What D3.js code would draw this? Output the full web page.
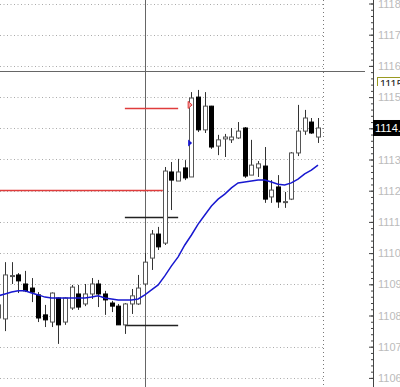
<!DOCTYPE html>
<html>
<head>
<meta charset="utf-8">
<script src="https://cdn.jsdelivr.net/npm/d3@7"></script>
<style>
body{margin:0;background:#fff;overflow:hidden;}
svg{display:block;font-family:"Liberation Sans",Arial,sans-serif;}
</style>
</head>
<body>
<div class="chartWrap"></div>
<script>
// bars, oldest first (first one is cut by the left edge)
var opens  = [1107.92,1107.89,1109.26,1109.30,1109.01,1108.88,1108.66,1108.02,1107.79,1108.56,1107.79,1108.24,1108.69,1108.37,1108.69,1109.01,1108.69,1108.40,1108.30,1107.70,1108.37,1108.37,1109.01,1109.84,1110.61,1110.32,1112.60,1112.31,1112.73,1112.44,1115.00,1113.95,1114.71,1113.43,1113.66,1113.63,1113.69,1114.01,1112.50,1112.73,1112.79,1111.80,1112.12,1111.63,1111.73,1113.21,1113.91,1114.20,1113.72];
var highs  = [1108.50,1109.71,1109.71,1109.36,1109.43,1109.20,1108.75,1108.34,1108.74,1108.58,1108.58,1108.98,1108.98,1109.01,1109.20,1109.14,1108.79,1108.47,1108.37,1108.40,1108.85,1109.30,1110.00,1110.74,1110.84,1112.76,1112.92,1113.02,1112.98,1115.16,1115.23,1115.16,1114.72,1113.79,1113.82,1114.01,1114.20,1114.04,1113.63,1112.95,1113.40,1112.34,1112.50,1111.96,1113.24,1114.75,1114.59,1114.33,1114.33];
var lows   = [1107.79,1107.50,1109.01,1108.72,1108.75,1108.43,1107.79,1107.63,1107.63,1107.09,1107.70,1108.18,1108.18,1108.30,1108.53,1108.27,1108.02,1108.11,1107.70,1107.41,1108.05,1108.34,1108.95,1109.46,1110.10,1110.26,1111.38,1112.31,1112.34,1112.44,1113.88,1113.85,1113.34,1113.14,1113.08,1113.53,1113.66,1112.41,1112.50,1112.44,1111.61,1111.61,1111.45,1111.45,1111.70,1113.11,1113.79,1113.82,1113.53];
var closes = [1108.34,1109.30,1109.28,1109.11,1108.79,1108.75,1107.92,1107.86,1108.72,1107.70,1108.56,1108.91,1108.27,1108.69,1109.01,1108.69,1108.50,1108.30,1107.70,1108.37,1108.63,1108.88,1109.71,1110.61,1110.20,1112.63,1112.34,1112.60,1112.41,1114.97,1113.95,1114.71,1113.40,1113.63,1113.72,1113.72,1113.91,1112.47,1112.82,1112.86,1111.73,1112.02,1111.64,1111.65,1113.21,1113.91,1114.33,1113.85,1114.01];
// moving average (blue)
var avg = [1108.63,1108.69,1108.75,1108.79,1108.79,1108.72,1108.66,1108.59,1108.56,1108.56,1108.56,1108.56,1108.56,1108.56,1108.59,1108.63,1108.56,1108.53,1108.50,1108.50,1108.50,1108.53,1108.66,1108.82,1108.98,1109.27,1109.59,1109.88,1110.26,1110.58,1110.93,1111.22,1111.51,1111.73,1111.89,1112.09,1112.25,1112.28,1112.31,1112.34,1112.34,1112.28,1112.21,1112.18,1112.25,1112.37,1112.54,1112.66,1112.82];

// horizontal levels
var levelPrice = [1114.65,1112.02,1111.16,1107.70];
var levelFrom  = [19.0,0.25,19.0,19.0];
var levelTo    = [27.0,24.7,27.0,27.0];
var levelColor = ["#e03c3c","#e03c3c","#222","#222"];

var priceTicks = [1106,1107,1108,1109,1110,1111,1112,1113,1114,1115,1116,1117,1118];
var crossBar = 22, crossPrice = 1115.84;
var markerBar = 28.8, markerUp = 1114.75, markerDown = 1113.53;
var lastLabel = "1114.00", boxLabel = "1115";

var width = 400, height = 387;
var plotRight = 323, axisX = 373;

var x = d3.scaleLinear().domain([0,48]).range([-1.66,318]);
var y = d3.scaleLinear().domain([1106,1118]).range([377.9,3.5]);

var svg = d3.select(".chartWrap").append("svg")
  .attr("width", width).attr("height", height);

//grid
svg.append("g").selectAll("line").data(priceTicks).enter().append("line")
  .attr("x1",0).attr("x2",plotRight)
  .attr("y1",function(d){return Math.round(y(d))+0.5;})
  .attr("y2",function(d){return Math.round(y(d))+0.5;})
  .attr("stroke","#aaa").attr("stroke-dasharray","1,2.5");
svg.append("line")
  .attr("x1",plotRight+0.5).attr("x2",plotRight+0.5).attr("y1",0).attr("y2",height)
  .attr("stroke","#777").attr("stroke-dasharray","1,3");

//crosshair
svg.append("line")
  .attr("x1",Math.round(x(crossBar))+0.5).attr("x2",Math.round(x(crossBar))+0.5)
  .attr("y1",0).attr("y2",height).attr("stroke","#666");
svg.append("line")
  .attr("x1",0).attr("x2",365)
  .attr("y1",Math.round(y(crossPrice))+0.5).attr("y2",Math.round(y(crossPrice))+0.5)
  .attr("stroke","#666");

//levels
svg.append("g").selectAll("line").data(levelPrice).enter().append("line")
  .attr("x1",function(d,i){return x(levelFrom[i]);})
  .attr("x2",function(d,i){return x(levelTo[i]);})
  .attr("y1",function(d){return Math.round(y(d))+0.5;})
  .attr("y2",function(d){return Math.round(y(d))+0.5;})
  .attr("stroke",function(d,i){return levelColor[i];})
  .attr("stroke-width",1.6);

//candles
var bars = svg.append("g").selectAll("g").data(closes).enter().append("g");
bars.append("line")
  .attr("x1",function(d,i){return Math.round(x(i))+0.5;})
  .attr("x2",function(d,i){return Math.round(x(i))+0.5;})
  .attr("y1",function(d,i){return y(highs[i]);})
  .attr("y2",function(d,i){return y(lows[i]);})
  .attr("stroke","#333");
bars.append("rect")
  .attr("x",function(d,i){return Math.round(x(i))-1.5;})
  .attr("width",4)
  .attr("y",function(d,i){return y(Math.max(opens[i],d));})
  .attr("height",function(d,i){return Math.max(1,Math.abs(y(opens[i])-y(d)));})
  .attr("fill",function(d,i){return d>=opens[i]?"#fff":"#000";})
  .attr("stroke",function(d,i){return d>=opens[i]?"#555":"#000";});

//moving average
var line = d3.line()
  .x(function(d,i){return x(i);})
  .y(function(d){return y(d);});
svg.append("path").datum(avg)
  .attr("d",line).attr("fill","none")
  .attr("stroke","#1818d0").attr("stroke-width",1.5);

//markers
var mx = x(markerBar);
svg.append("path")
  .attr("d","M"+(mx-2)+","+(y(markerUp)-3.5)+"L"+(mx+2)+","+y(markerUp)+"L"+(mx-2)+","+(y(markerUp)+3.5)+"Z")
  .attr("fill","#f4a0a0").attr("stroke","#e03c3c");
svg.append("path")
  .attr("d","M"+(mx-2)+","+(y(markerDown)-3.5)+"L"+(mx+2)+","+y(markerDown)+"L"+(mx-2)+","+(y(markerDown)+3.5)+"Z")
  .attr("fill","#1818d0");

//price axis
svg.append("line")
  .attr("x1",axisX+0.5).attr("x2",axisX+0.5).attr("y1",0).attr("y2",height)
  .attr("stroke","#444");
var minor = d3.range(1106,1118.01,0.2);
svg.append("g").attr("transform","translate("+(axisX+1)+",0)")
  .call(d3.axisLeft(y).tickValues(minor).tickSize(3).tickSizeOuter(0).tickFormat(""))
  .call(function(g){g.select(".domain").remove(); g.selectAll("line").attr("stroke","#444");});
svg.append("g").attr("transform","translate("+(axisX+1)+",0)")
  .call(d3.axisLeft(y).tickValues(priceTicks).tickSize(5).tickSizeOuter(0).tickFormat(""))
  .call(function(g){g.select(".domain").remove(); g.selectAll("line").attr("stroke","#444");});
svg.append("g").attr("transform","translate("+axisX+",0)")
  .call(d3.axisRight(y).tickValues(priceTicks).tickSize(0).tickPadding(5).tickFormat(d3.format("d")))
  .call(function(g){
    g.select(".domain").remove();
    g.selectAll("text").attr("fill","#bbb").style("font-size","11px")
      .style("font-family","'Liberation Sans',Arial,sans-serif");
  });

//crosshair price box (partly hidden)
svg.append("defs").append("clipPath").attr("id","boxClip").append("rect")
  .attr("x",376).attr("y",76).attr("width",30).attr("height",10);
var bx = svg.append("g").attr("clip-path","url(#boxClip)");
bx.append("rect").attr("x",377.5).attr("y",77.5).attr("width",30).attr("height",14)
  .attr("fill","#fff").attr("stroke","#9a9a20");
bx.append("text").attr("x",380).attr("y",88).attr("fill","#222")
  .style("font-size","11px").text(boxLabel);

//last price box
var ly = y(closes[closes.length-1]);
svg.append("rect").attr("x",axisX).attr("y",ly-8).attr("width",30).attr("height",16)
  .attr("fill","#000");
svg.append("text").attr("x",axisX+2).attr("y",ly+4).attr("fill","#fff")
  .style("font-size","11px").text(lastLabel);
</script>
</body>
</html>
